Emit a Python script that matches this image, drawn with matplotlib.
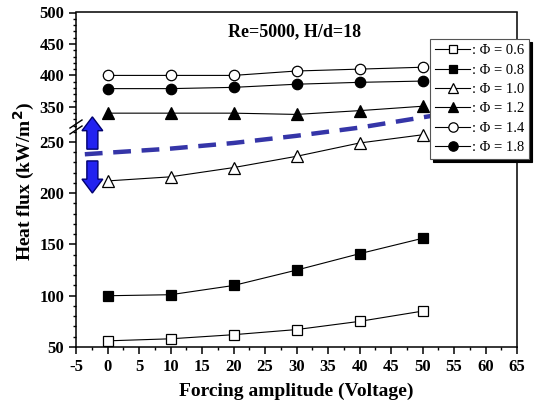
import matplotlib
matplotlib.use("Agg")
import numpy as np
from matplotlib import pyplot as plt
from matplotlib.ticker import MultipleLocator

# forcing amplitude (V)
x = [0, 10, 20, 30, 40, 50]

# heat flux (kW/m^2) for each equivalence ratio
phi06 = [56, 58, 62, 67, 75, 85]
phi08 = [100, 101, 110, 125, 141, 156]
phi10 = [212, 216, 225, 236, 249, 257]
phi12 = [340, 340, 340, 338, 344, 351]
phi14 = [400, 400, 400, 407, 410, 413]
phi18 = [379, 379, 381, 386, 389, 391]

# dashed guide line (lower-scale units)
guide_x = [-3.6, 0, 10, 20, 30, 40, 51.7]
guide_y = [238, 239.5, 243.5, 249, 256, 264, 275.7]

# double arrow (lower-scale units)
arrow_x = -2.4
arrow_up = (243, 274.5)
arrow_down = (231.5, 200.2)

plt.rcParams['font.family'] = ['Liberation Serif', 'DejaVu Serif']
plt.rcParams['font.weight'] = 'bold'
plt.rcParams['axes.unicode_minus'] = False

W, H = 534, 405
fig = plt.figure(figsize=(W / 100, H / 100), dpi=100)

left, right = 76 / W, 517 / W
top_px, brk_px, bot_px = 12.5, 127, 347
ax_top = fig.add_axes([left, 1 - brk_px / H, right - left, (brk_px - top_px) / H])
ax_low = fig.add_axes([left, 1 - bot_px / H, right - left, (bot_px - brk_px) / H])
ax_top.patch.set_alpha(0)

line_kw = dict(color='black', lw=0.8, markeredgecolor='black', markeredgewidth=0.9)

h06, = ax_low.plot(x, phi06, marker='s', ms=7, markerfacecolor='white', label=': Φ = 0.6', **line_kw)
h08, = ax_low.plot(x, phi08, marker='s', ms=7, markerfacecolor='black', label=': Φ = 0.8', **line_kw)
h10, = ax_low.plot(x, phi10, marker='^', ms=8.5, markerfacecolor='white', label=': Φ = 1.0', **line_kw)
h12, = ax_top.plot(x, phi12, marker='^', ms=8.5, markerfacecolor='black', label=': Φ = 1.2', **line_kw)
h14, = ax_top.plot(x, phi14, marker='o', ms=7.5, markerfacecolor='white', label=': Φ = 1.4', **line_kw)
h18, = ax_top.plot(x, phi18, marker='o', ms=7.5, markerfacecolor='black', label=': Φ = 1.8', **line_kw)

ax_low.plot(guide_x, guide_y, '--', color='#3535a8', lw=3.2, dashes=(4, 2.4), clip_on=False, zorder=1)

for y0, y1 in [arrow_up, arrow_down]:
    ax_low.arrow(arrow_x, y0, 0, y1 - y0, width=1.75, head_width=3.3, head_length=13.5,
                 length_includes_head=True, facecolor='#2222f0', edgecolor='#00006e',
                 lw=1.0, clip_on=False, zorder=5)

for ax in (ax_top, ax_low):
    ax.set_xlim(-5, 65)
    ax.xaxis.set_major_locator(MultipleLocator(5))
    ax.xaxis.set_minor_locator(MultipleLocator(2.5))
    ax.yaxis.set_major_locator(MultipleLocator(50))
    ax.yaxis.set_minor_locator(MultipleLocator(10))
    ax.tick_params(which='major', direction='out', length=5, width=1.1, labelsize=12)
    ax.tick_params(which='minor', direction='out', length=2.5, width=1.0)
    ax.tick_params(top=False, right=False, which='both')
    for s in ax.spines.values():
        s.set_linewidth(1.1)
    for lab in ax.get_xticklabels() + ax.get_yticklabels():
        lab.set_fontweight('bold')

ax_top.set_ylim(318, 500)
ax_low.set_ylim(50, 264.6)
ax_top.spines['bottom'].set_visible(False)
ax_low.spines['top'].set_visible(False)
ax_top.tick_params(axis='x', which='both', bottom=False, labelbottom=False)

ax_top.text(0.495, 0.83, 'Re=5000, H/d=18', transform=ax_top.transAxes,
            ha='center', va='center', fontsize=13, fontweight='bold')

ax_low.set_xlabel('Forcing amplitude (Voltage)', fontsize=14, fontweight='bold', labelpad=6)
fig.text(24 / W, 1 - 182 / H, 'Heat flux (kW/m$^\\mathbf{2}$)', rotation=90,
         ha='center', va='center', fontsize=14, fontweight='bold')

# break marks on the left spine
for dy in (-3, 3):
    yy = 1 - (brk_px + dy) / H
    fig.add_artist(plt.Line2D([(70) / W, (82) / W], [yy - 4 / H, yy + 4 / H],
                              color='black', lw=1.0, transform=fig.transFigure))
fig.add_artist(plt.Polygon([[73 / W, 1 - (brk_px - 1) / H], [79 / W, 1 - (brk_px - 4) / H],
                            [79 / W, 1 - (brk_px + 1) / H], [73 / W, 1 - (brk_px + 4) / H]],
                           closed=True, facecolor='white', edgecolor='none',
                           transform=fig.transFigure, zorder=0))

leg = fig.legend(handles=[h06, h08, h10, h12, h14, h18], loc='upper right',
                 bbox_to_anchor=(529 / W, 1 - 39 / H), frameon=True, fancybox=False,
                 shadow={'color': 'black', 'alpha': 1}, edgecolor='#555555',
                 prop={'family': 'Liberation Serif', 'weight': 'normal', 'size': 10.5},
                 handlelength=2.4, handletextpad=0.1, labelspacing=0.42, markerscale=0.9,
                 borderpad=0.35, borderaxespad=0)
leg.get_frame().set_linewidth(0.8)

fig.savefig('out.png', dpi=100)
